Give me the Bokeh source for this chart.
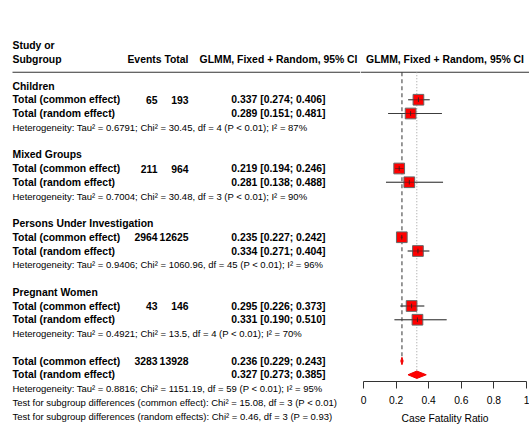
from bokeh.plotting import figure
from bokeh.layouts import row
from bokeh.models import Range1d, LinearAxis, FixedTicker, ColumnDataSource
from bokeh.core.properties import value
from bokeh.embed import file_html
from bokeh.resources import INLINE

# ---------------- data ----------------
groups = ["Children", "Mixed Groups", "Persons Under Investigation", "Pregnant Women"]
events = [65, 211, 2964, 43]
totals = [193, 964, 12625, 146]
common_est = [0.337, 0.219, 0.235, 0.295]
common_lo = [0.274, 0.194, 0.227, 0.226]
common_hi = [0.406, 0.246, 0.242, 0.373]
random_est = [0.289, 0.281, 0.334, 0.331]
random_lo = [0.151, 0.138, 0.271, 0.190]
random_hi = [0.481, 0.488, 0.404, 0.510]
tau2 = ["0.6791", "0.7004", "0.9406", "0.4921"]
chi2 = ["30.45", "30.48", "1060.96", "13.5"]
dfs = [4, 3, 45, 4]
pvals = ["P < 0.01", "P < 0.01", "P < 0.01", "P < 0.01"]
i2 = [87, 90, 96, 70]

overall_events = 3283
overall_total = 13928
overall_est = [0.236, 0.327]        # common, random
overall_lo = [0.229, 0.273]
overall_hi = [0.243, 0.385]
overall_tau2 = "0.8816"
overall_chi2 = "1151.19"
overall_df = 59
overall_p = "P < 0.01"
overall_i2 = 95

test_names = ["common effect", "random effects"]
test_chi2 = ["15.08", "0.46"]
test_df = [3, 3]
test_p = ["P < 0.01", "P = 0.93"]

tick_values = [0, 0.2, 0.4, 0.6, 0.8, 1]
tick_labels = ["0", "0.2", "0.4", "0.6", "0.8", "1"]

# ---------------- layout constants ----------------
FONT_NAME = "Liberation Sans"
FONT = value(FONT_NAME)
BOLD_SIZE = "10.4px"
NORM_SIZE = "9.5px"
ROW0 = 85.5      # page y of row 0
ROW_H = 13.75    # row height in px
PAGE_TOP = 0
H = 426
LEFT_W = 360
RIGHT_W = 169
X0 = 363         # page x of CFR = 0
SCALE = 163.0    # px per CFR unit
AXIS_Y = 381     # page y of axis line

def row_of(py):
    return (py - ROW0) / ROW_H

# ---------------- left (table) figure ----------------
left = figure(width=LEFT_W, height=H, output_backend="svg", toolbar_location=None,
              x_range=Range1d(0, LEFT_W),
              y_range=Range1d(row_of(PAGE_TOP + H), row_of(PAGE_TOP)),
              x_axis_location=None, y_axis_location=None, min_border=0)
left.frame_align = False
left.outline_line_color = None
left.background_fill_color = "white"
left.border_fill_color = "white"
for g in left.grid:
    g.visible = False

bold = dict(x=[], y=[], text=[], align=[])
norm = dict(x=[], y=[], text=[], align=[])

def add(d, x, y, t, a="left"):
    d["x"].append(x); d["y"].append(y); d["text"].append(t); d["align"].append(a)

LABEL_X = 12
EV_X = 157
TOT_X = 188
EFF_X = 325

add(bold, LABEL_X, -2.93, "Study or")
add(bold, LABEL_X, -1.9, "Subgroup")
add(bold, 161, -1.9, "Events", "right")
add(bold, TOT_X, -1.9, "Total", "right")
add(bold, 357, -1.9, "GLMM, Fixed + Random, 95% CI", "right")

def eff(e, lo, hi):
    return f"{e:.3f} [{lo:.3f}; {hi:.3f}]"

def het(t, c, d, p, i):
    return f"Heterogeneity: Tau\u00b2 = {t}; Chi\u00b2 = {c}, df = {d} ({p}); I\u00b2 = {i}%"

sq_x, sq_y, ci_lo, ci_hi = [], [], [], []
for k, gname in enumerate(groups):
    r = 5 * k
    add(bold, LABEL_X, r, gname)
    add(bold, LABEL_X, r + 1, "Total (common effect)")
    add(bold, EV_X, r + 1, str(events[k]), "right")
    add(bold, TOT_X, r + 1, str(totals[k]), "right")
    add(bold, EFF_X, r + 1, eff(common_est[k], common_lo[k], common_hi[k]), "right")
    add(bold, LABEL_X, r + 2, "Total (random effect)")
    add(bold, EFF_X, r + 2, eff(random_est[k], random_lo[k], random_hi[k]), "right")
    add(norm, LABEL_X, r + 3, het(tau2[k], chi2[k], dfs[k], pvals[k], i2[k]))
    sq_x += [common_est[k], random_est[k]]
    sq_y += [r + 1, r + 2]
    ci_lo += [common_lo[k], random_lo[k]]
    ci_hi += [common_hi[k], random_hi[k]]

R_OV = 5 * len(groups)
add(bold, LABEL_X, R_OV, "Total (common effect)")
add(bold, EV_X, R_OV, str(overall_events), "right")
add(bold, TOT_X, R_OV, str(overall_total), "right")
add(bold, EFF_X, R_OV, eff(overall_est[0], overall_lo[0], overall_hi[0]), "right")
add(bold, LABEL_X, R_OV + 1, "Total (random effect)")
add(bold, EFF_X, R_OV + 1, eff(overall_est[1], overall_lo[1], overall_hi[1]), "right")
add(norm, LABEL_X, R_OV + 2, het(overall_tau2, overall_chi2, overall_df, overall_p, overall_i2))
for j in range(len(test_names)):
    add(norm, LABEL_X, R_OV + 3 + j,
        f"Test for subgroup differences ({test_names[j]}): Chi\u00b2 = {test_chi2[j]}, df = {test_df[j]} ({test_p[j]})")

for d, style, size in ((bold, "bold", BOLD_SIZE), (norm, "normal", NORM_SIZE)):
    src = ColumnDataSource(d)
    left.text(x="x", y="y", text="text", source=src, text_align="align",
              text_baseline="middle", text_font=FONT, text_font_style=style,
              text_font_size=size, text_color="black")

left.segment(x0=[LABEL_X], x1=[LEFT_W], y0=[-1.0], y1=[-1.0],
             line_color="#333333", line_width=1.2)

# ---------------- right (forest) figure ----------------
right = figure(width=RIGHT_W, height=H, output_backend="svg", toolbar_location=None,
               x_range=Range1d((LEFT_W - X0) / SCALE, (LEFT_W + RIGHT_W - X0) / SCALE),
               y_range=Range1d(row_of(AXIS_Y), row_of(PAGE_TOP)),
               x_axis_location=None, y_axis_location=None,
               min_border_left=0, min_border_right=0, min_border_top=0,
               min_border_bottom=PAGE_TOP + H - AXIS_Y)
right.frame_align = False
right.outline_line_color = None
right.background_fill_color = "white"
right.border_fill_color = "white"
for g in right.grid:
    g.visible = False

right.segment(x0=[right.x_range.start], x1=[right.x_range.end], y0=[-1.0], y1=[-1.0],
              line_color="#333333", line_width=1.2)
right.text(x=[0.5], y=[-1.9], text=["GLMM, Fixed + Random, 95% CI"], text_align="center",
           text_baseline="middle", text_font=FONT, text_font_style="bold",
           text_font_size=BOLD_SIZE, text_color="black")

DH = 0.27  # diamond half height in rows
right.segment(x0=[overall_est[0]], x1=[overall_est[0]], y0=[-1.0], y1=[R_OV - DH],
              line_color="#333333", line_width=1, line_dash="4 3")
right.segment(x0=[overall_est[1]], x1=[overall_est[1]], y0=[-1.0], y1=[R_OV + 1 - DH],
              line_color="#9a9a9a", line_width=1, line_dash="1 2")

right.segment(x0=ci_lo, x1=ci_hi, y0=sq_y, y1=sq_y, line_color="#555555", line_width=1)
right.scatter(x=sq_x, y=sq_y, marker="square", size=10.7, fill_color="#ff0000",
              line_color="#666666", line_width=1)
right.segment(x0=ci_lo, x1=ci_hi, y0=sq_y, y1=sq_y, line_color="#222222", line_width=0.8,
              line_alpha=0.6)
right.segment(x0=sq_x, x1=sq_x, y0=[y - 0.17 for y in sq_y], y1=[y + 0.17 for y in sq_y],
              line_color="#222222", line_width=0.8)

dxs, dys = [], []
for j in range(2):
    r = R_OV + j
    dxs.append([overall_lo[j], overall_est[j], overall_hi[j], overall_est[j]])
    dys.append([r, r - DH, r, r + DH])
right.patches(xs=dxs, ys=dys, fill_color="#ff0000", line_color="#ee0000", line_width=1)

axis = LinearAxis(bounds=(0, 1), ticker=FixedTicker(ticks=tick_values),
                  major_label_overrides={v: l for v, l in zip(tick_values, tick_labels)},
                  axis_label="Case Fatality Ratio",
                  major_tick_in=0, major_tick_out=7, minor_tick_in=0, minor_tick_out=0,
                  axis_line_color="#333333", major_tick_line_color="#333333",
                  major_label_standoff=7, axis_label_standoff=6,
                  major_label_text_font=FONT_NAME, major_label_text_font_size="10.3px",
                  major_label_text_color="black",
                  axis_label_text_font=FONT_NAME, axis_label_text_font_size="10.3px",
                  axis_label_text_font_style="normal", axis_label_text_color="black")
right.add_layout(axis, "below")

layout = row(left, right)
open("out.html", "w").write(file_html(layout, INLINE))
